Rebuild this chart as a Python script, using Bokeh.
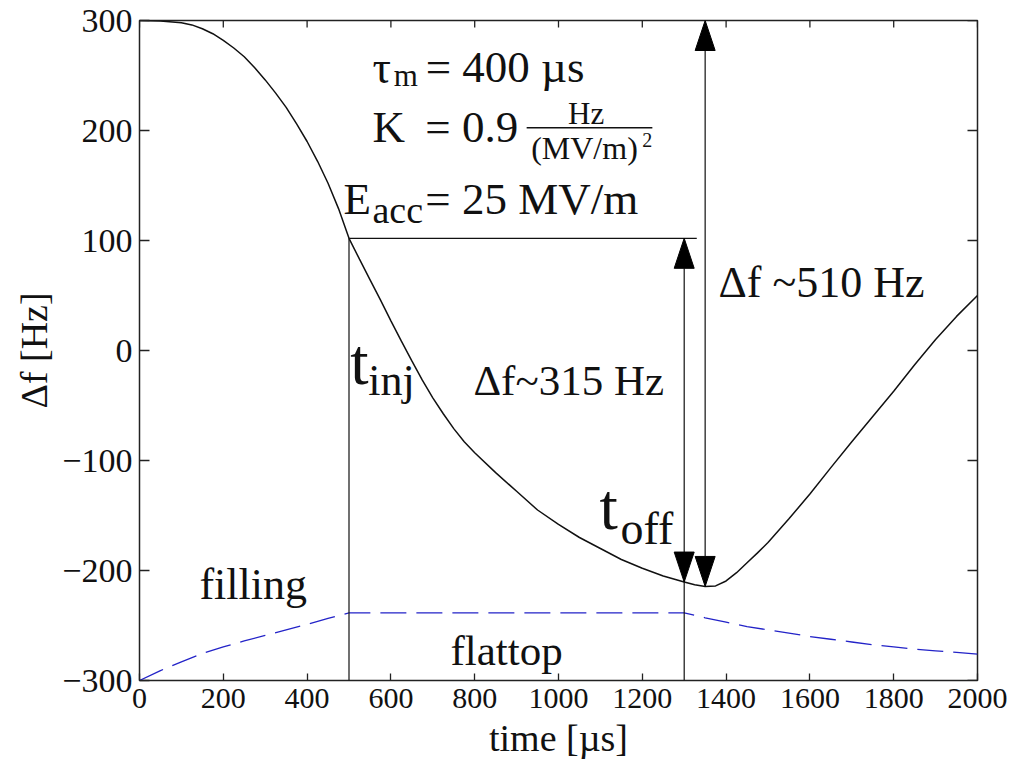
import numpy as np
from bokeh.plotting import figure
from bokeh.models import Label, FixedTicker, Range1d
from bokeh.embed import file_html
from bokeh.resources import INLINE

# ---------------- data ----------------
t_detune = [0, 50, 100, 125, 150, 175, 200, 225, 250, 275, 300, 325, 350, 375,
            400, 425, 450, 475, 500, 525, 550, 575, 600, 625, 650, 675, 700, 725,
            750, 775, 800, 850, 900, 950, 1000, 1050, 1100, 1150, 1200, 1250,
            1300, 1325, 1350, 1375, 1400, 1425, 1450, 1475, 1500, 1550, 1600,
            1650, 1700, 1750, 1800, 1850, 1900, 1950, 2000]
f_detune = [300, 299.5, 298, 296, 292.5, 288, 282, 275, 267, 257, 246, 234, 221,
            206, 190, 172, 152, 129, 102, 83, 64.5, 46, 27, 8.5, -9.5, -27, -43,
            -57.5, -71, -83, -93, -111, -128, -145, -158, -170, -180, -190, -198,
            -205, -210.5, -213, -214.5, -214, -209.5, -202, -193, -184, -174.5,
            -153, -130.5, -106.5, -83, -60, -37, -13, 10, 31, 50]

t_field = [0, 50, 100, 150, 200, 250, 300, 350, 400, 450, 500, 1300, 1350, 1400,
           1450, 1500, 1550, 1600, 1650, 1700, 1750, 1800, 1850, 1900, 1950, 2000]
f_field = [-300, -291, -283, -275.5, -269.5, -264, -259, -254, -249, -243.5, -238.5,
           -238.5, -243, -247, -251, -254, -257, -260, -262.5, -265, -267.5, -269.5,
           -271.5, -273, -274.5, -276]

t_inj = 500
t_off = 1300
t_min = 1350

x_ticks = [0, 200, 400, 600, 800, 1000, 1200, 1400, 1600, 1800, 2000]
x_tick_labels = ["0", "200", "400", "600", "800", "1000", "1200", "1400", "1600", "1800", "2000"]
y_ticks = [-300, -200, -100, 0, 100, 200, 300]
y_tick_labels = ["\u2212300", "\u2212200", "\u2212100", "0", "100", "200", "300"]

# ---------------- derived values ----------------
f_inj = float(np.interp(t_inj, t_detune, f_detune))
f_off = float(np.interp(t_off, t_detune, f_detune))
f_low = float(np.interp(t_min, t_detune, f_detune))
f_top = float(max(f_detune))
x_min, x_max = x_ticks[0], x_ticks[-1]
y_min, y_max = y_ticks[0], y_ticks[-1]

FONT = "Liberation Serif"
INK = "#111111"
FRAME_W, FRAME_H = 838, 660
PX_PER_US = FRAME_W / (x_max - x_min)
PX_PER_HZ = FRAME_H / (y_max - y_min)

p = figure(frame_width=FRAME_W, frame_height=FRAME_H,
           x_range=Range1d(x_min, x_max), y_range=Range1d(y_min, y_max),
           output_backend="svg", toolbar_location=None,
           min_border_left=139, min_border_right=35, min_border_top=20,
           min_border_bottom=75)
p.background_fill_color = "white"
p.border_fill_color = "white"
p.outline_line_color = "#222222"
p.outline_line_width = 1.5
p.xgrid.visible = False
p.ygrid.visible = False

# axes
p.xaxis.ticker = FixedTicker(ticks=x_ticks)
p.xaxis.major_label_overrides = {t: s for t, s in zip(x_ticks, x_tick_labels)}
p.yaxis.ticker = FixedTicker(ticks=y_ticks)
p.yaxis.major_label_overrides = {t: s for t, s in zip(y_ticks, y_tick_labels)}
for ax in (p.xaxis[0], p.yaxis[0]):
    ax.axis_line_color = None
    ax.major_tick_out = 0
    ax.minor_tick_line_color = None
    ax.major_tick_line_color = "#222222"
    ax.major_tick_line_width = 1.3
    ax.major_label_text_font = FONT
    ax.major_label_text_color = INK
    ax.axis_label_text_font = FONT
    ax.axis_label_text_font_style = "normal"
    ax.axis_label_text_color = INK
p.xaxis.major_tick_in = 7
p.yaxis.major_tick_in = 10
p.xaxis.major_label_text_font_size = "30px"
p.yaxis.major_label_text_font_size = "34px"
p.xaxis.axis_label = "time [\u00b5s]"
p.yaxis.axis_label = "\u0394f [Hz]"
p.xaxis.axis_label_text_font_size = "38px"
p.yaxis.axis_label_text_font_size = "38px"
p.xaxis.major_label_standoff = 8
p.xaxis.axis_label_standoff = 6
p.yaxis.major_label_standoff = 7
p.yaxis.axis_label_standoff = 4

# inward ticks on the top and right edges (outer halves clipped by the frame)
p.scatter(x=x_ticks, y=[y_max] * len(x_ticks), marker="dash", angle=np.pi / 2,
          size=14, line_color="#222222", line_width=1.3)
p.scatter(x=[x_max] * len(y_ticks), y=y_ticks, marker="dash",
          size=20, line_color="#222222", line_width=1.3)

# curves
p.line(t_field, f_field, line_color="#2323c8", line_width=1.3, line_dash="26 10")
p.line(t_detune, f_detune, line_color=INK, line_width=1.5)

# arrow heads: slender filled triangles (20 px wide, 30 px long)
HEAD_W = 20 / PX_PER_US
HEAD_L = 30 / PX_PER_HZ
arrows = [(t_off, f_off, f_inj), (t_min, f_low, f_top)]
hx, hy = [], []
for x, lo, hi in arrows:
    hx.append([x, x - HEAD_W / 2, x + HEAD_W / 2])
    hy.append([hi, hi - HEAD_L, hi - HEAD_L])
    hx.append([x, x - HEAD_W / 2, x + HEAD_W / 2])
    hy.append([lo, lo + HEAD_L, lo + HEAD_L])

# guide lines and arrow shafts
p.segment(x0=[t_inj, t_off, t_inj, t_min], y0=[y_min, y_min, f_inj, f_low + HEAD_L],
          x1=[t_inj, t_off, t_off + 30, t_min], y1=[f_inj, f_inj - HEAD_L, f_inj, f_top - HEAD_L],
          line_color=INK, line_width=1.2)
p.patches(hx, hy, fill_color="black", line_color="black", line_width=1)


def lab(x, y, text, size, align="left"):
    lift = 0.29 * size / PX_PER_HZ
    p.add_layout(Label(x=x, y=y + lift, text=text, text_font=FONT,
                       text_font_size=f"{size}px", text_color=INK,
                       text_align=align, text_baseline="alphabetic"))

# parameter block
lab(556, 245.5, "\u03c4", 46)
lab(607, 241.8, "m", 31)
lab(683, 245.5, "= 400 \u00b5s", 45)
lab(556, 190.9, "K", 45)
lab(682, 190.9, "= 0.9", 45)
lab(1066, 207.5, "Hz", 31, "center")
p.segment(x0=[924], y0=[202.5], x1=[1224], y1=[202.5], line_color=INK, line_width=1.5)
lab(1062, 175.7, "(MV/m)", 32, "center")
lab(1200, 186, "2", 20)
lab(487, 125.7, "E", 45)
lab(556, 118, "acc", 38)
lab(682, 125.7, "= 25 MV/m", 45)

# annotations
lab(1382, 50, "\u0394f ~510 Hz", 44)
lab(797, -38.5, "\u0394f~315 Hz", 43)
lab(503, -27.3, "t", 66)
lab(546, -39, "inj", 44)
lab(1098, -159, "t", 66)
lab(1148, -174.3, "off", 46)
lab(143, -224.3, "filling", 44)
lab(742, -284.5, "flattop", 43)

open("out.html", "w").write(file_html(p, INLINE))
